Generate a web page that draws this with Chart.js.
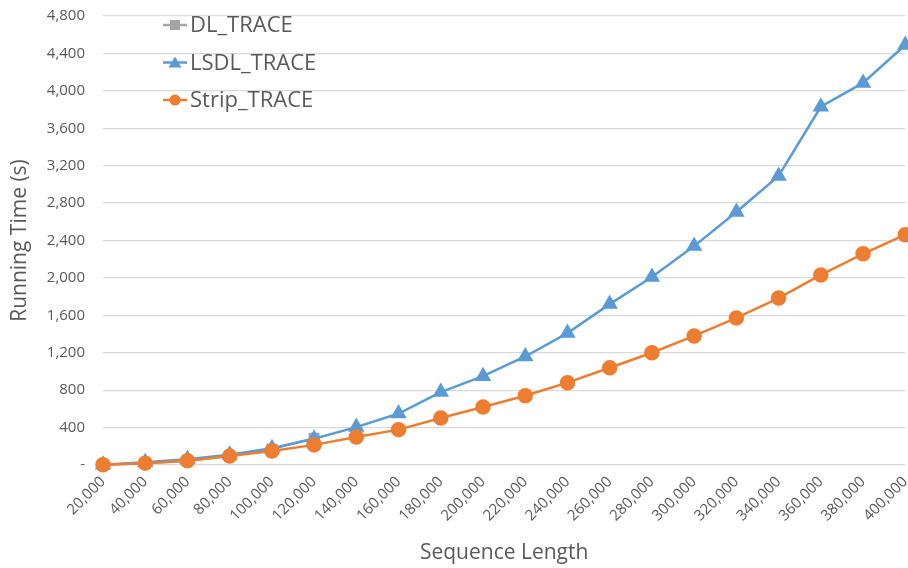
<!DOCTYPE html>
<html>
<head>
<meta charset="utf-8">
<script src="https://cdn.jsdelivr.net/npm/chart.js@4.4.1/dist/chart.umd.min.js"></script>
<style>
  html, body { margin: 0; padding: 0; background: #fff; overflow: hidden; }
  #wrap { position: relative; width: 926px; height: 568px; }
</style>
</head>
<body>
<div id="wrap"><canvas id="myChart"></canvas></div>
<script>
// sequence lengths on the x axis
var seqLengths = ['20,000', '40,000', '60,000', '80,000', '100,000', '120,000', '140,000',
    '160,000', '180,000', '200,000', '220,000', '240,000', '260,000', '280,000', '300,000',
    '320,000', '340,000', '360,000', '380,000', '400,000'];

// running times in seconds
var dlTrace = [2, 20, 45, 95, 170, 287];
var lsdlTrace = [3, 30, 62, 110, 180, 280, 405, 550, 780, 950, 1160, 1410, 1720, 2010,
    2340, 2705, 3090, 3830, 4085, 4490];
var stripTrace = [2, 20, 45, 95, 150, 215, 300, 378, 503, 620, 740, 880, 1040, 1200,
    1380, 1572, 1785, 2032, 2258, 2462];

var yTicks = [0, 400, 800, 1200, 1600, 2000, 2400, 2800, 3200, 3600, 4000, 4400, 4800];

var grey = '#595959';
var fontFam = '"Open Sans", "Noto Sans", sans-serif';

// legend drawn inside the plot, top left, like the excel one
var insideLegend = {
    id: 'insideLegend',
    afterDraw: function (chart) {
        var ctx = chart.ctx;
        var x0 = 163, y0 = 25, gap = 37.5;
        ctx.save();
        chart.data.datasets.forEach(function (ds, i) {
            var y = y0 + i * gap;
            ctx.strokeStyle = ds.borderColor;
            ctx.lineWidth = 2.5;
            ctx.beginPath();
            ctx.moveTo(x0, y);
            ctx.lineTo(x0 + 24, y);
            ctx.stroke();
            ctx.fillStyle = ds.backgroundColor;
            var cx = x0 + 12;
            if (ds.pointStyle === 'rect') {
                ctx.fillRect(cx - 5, y - 5, 10, 10);
            } else if (ds.pointStyle === 'triangle') {
                ctx.beginPath();
                ctx.moveTo(cx, y - 6);
                ctx.lineTo(cx + 6.5, y + 5);
                ctx.lineTo(cx - 6.5, y + 5);
                ctx.closePath();
                ctx.fill();
            } else {
                ctx.beginPath();
                ctx.arc(cx, y, 5.5, 0, Math.PI * 2);
                ctx.fill();
            }
            ctx.fillStyle = grey;
            ctx.font = '22px ' + fontFam;
            ctx.textBaseline = 'middle';
            ctx.fillText(ds.label, x0 + 27, y + 1);
        });
        ctx.restore();
    }
};

const ctx = document.getElementById('myChart');
new Chart(ctx, {
    type: 'line',
    data: {
        labels: seqLengths,
        datasets: [
            {
                label: 'DL_TRACE',
                data: dlTrace,
                borderColor: '#A5A5A5',
                backgroundColor: '#A5A5A5',
                pointStyle: 'rect',
                pointRadius: 6,
                borderWidth: 2.5,
                order: 3
            },
            {
                label: 'LSDL_TRACE',
                data: lsdlTrace,
                borderColor: '#5B9BD5',
                backgroundColor: '#5B9BD5',
                pointStyle: 'triangle',
                pointRadius: 7,
                borderWidth: 2.5,
                order: 2
            },
            {
                label: 'Strip_TRACE',
                data: stripTrace,
                borderColor: '#ED7D31',
                backgroundColor: '#ED7D31',
                pointStyle: 'circle',
                pointRadius: 6.5,
                borderWidth: 2.5,
                order: 1
            }
        ]
    },
    options: {
        responsive: true,
        maintainAspectRatio: false,
        animation: false,
        clip: false,
        layout: { padding: { top: 16, right: 8, left: 0, bottom: 0 } },
        plugins: {
            legend: { display: false },
            tooltip: { enabled: false }
        },
        scales: {
            x: {
                offset: false,
                grid: { display: false, drawTicks: false },
                border: { display: false },
                ticks: {
                    color: grey,
                    font: { family: fontFam, size: 15 },
                    minRotation: 45,
                    maxRotation: 45,
                    padding: 8
                },
                title: {
                    display: true,
                    text: 'Sequence Length',
                    color: grey,
                    font: { family: fontFam, size: 21 },
                    padding: { top: 4, bottom: 2 }
                },
                afterFit: function (scale) { scale.height = 103; }
            },
            y: {
                min: 0,
                max: 4800,
                afterBuildTicks: function (scale) {
                    scale.ticks = yTicks.map(function (v) { return { value: v }; });
                },
                grid: { color: '#D9D9D9', lineWidth: 1.3, drawTicks: false },
                border: { display: false },
                ticks: {
                    color: grey,
                    font: { family: fontFam, size: 15 },
                    padding: 18,
                    callback: function (v) { return v === 0 ? '-' : v.toLocaleString('en-US'); }
                },
                title: {
                    display: true,
                    text: 'Running Time (s)',
                    color: grey,
                    font: { family: fontFam, size: 21 },
                    padding: { top: 7, bottom: 4 }
                },
                afterFit: function (scale) {
                    scale.width = 103;
                    // tick padding otherwise adds space above the top gridline
                    scale.paddingTop = 0;
                    scale.paddingBottom = 0;
                }
            }
        }
    },
    plugins: [insideLegend]
});
</script>
</body>
</html>
